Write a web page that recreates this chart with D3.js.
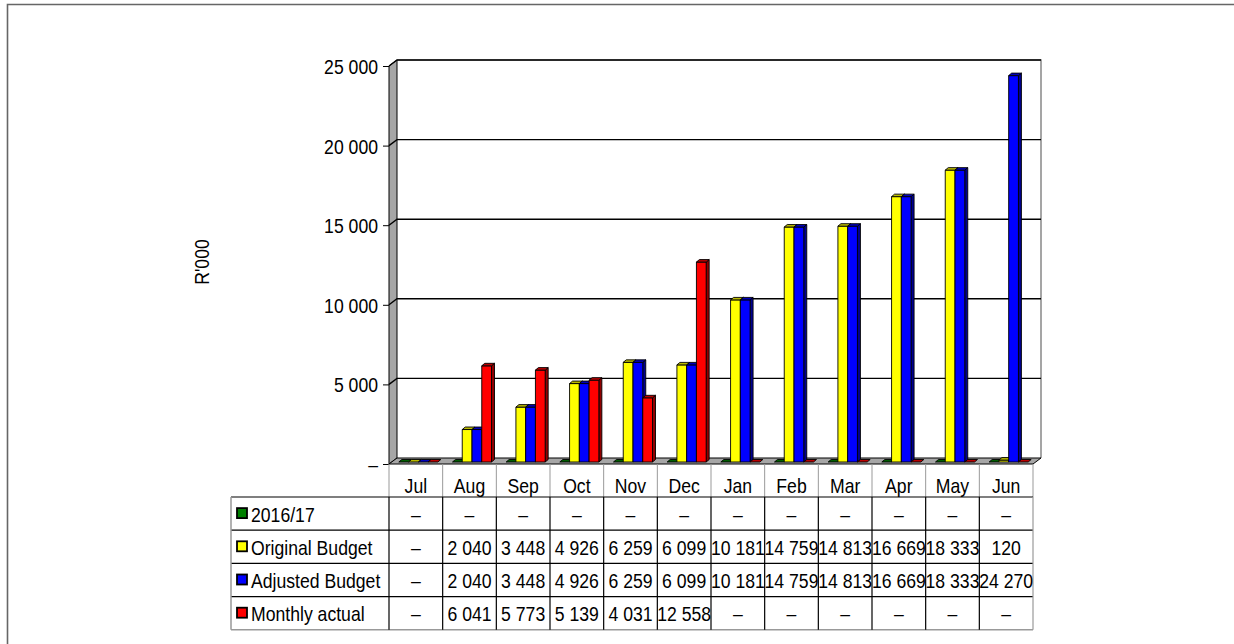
<!DOCTYPE html>
<html lang="en">
<head>
<meta charset="UTF-8">
<title>Budget vs actual</title>
<script src="https://d3js.org/d3.v7.min.js"></script>
<style>
    body { margin: 0; padding: 0; background: #fff; }
    svg text { font-family: "Liberation Sans", Arial, sans-serif; font-size: 20.5px; fill: #000; }
</style>
</head>
<body>
<svg width="1234" height="644"></svg>
<script>
    const months = ["Jul", "Aug", "Sep", "Oct", "Nov", "Dec", "Jan", "Feb", "Mar", "Apr", "May", "Jun"];
    const seriesNames = ["2016/17", "Original Budget", "Adjusted Budget", "Monthly actual"];
    const seriesColors = ["#008000", "#ffff00", "#0000ff", "#ff0000"];
    const prior = [0, 0, 0, 0, 0, 0, 0, 0, 0, 0, 0, 0];
    const original = [0, 2040, 3448, 4926, 6259, 6099, 10181, 14759, 14813, 16669, 18333, 120];
    const adjusted = [0, 2040, 3448, 4926, 6259, 6099, 10181, 14759, 14813, 16669, 18333, 24270];
    const actual = [0, 6041, 5773, 5139, 4031, 12558, 0, 0, 0, 0, 0, 0];
    const yTicks = [0, 5000, 10000, 15000, 20000, 25000];
    const allSeries = [prior, original, adjusted, actual];

    const svg = d3.select("svg");
    const squeeze = 0.86; // the original font is a narrow one

    function label(g, px, py, str, anchor) {
        return g.append("text")
            .attr("transform", `translate(${px},${py}) scale(${squeeze},1)`)
            .attr("text-anchor", anchor || "middle")
            .text(str);
    }

    // outer frame (only top and left show)
    svg.append("path").attr("d", "M7.5,644V4.5H1234")
        .attr("fill", "none").attr("stroke", "#666").attr("stroke-width", 1.6);

    const x = d3.scaleBand().domain(months).range([389, 1033]);
    const xs = d3.scaleBand().domain(seriesNames).range([0, x.bandwidth()]).paddingOuter(0.75);
    const y = d3.scaleLinear().domain([0, 25000]).range([464, 66]);

    const dx = 8, dy = -6;          // wall depth
    const bx = 2.5, by = -2;       // bar front offset inside depth
    const bdx = 3, bdy = -2.5;     // bar depth

    const x0 = x.range()[0], x1 = x.range()[1];
    const fmt = v => v === 0 ? "–" : d3.format(",")(v).replace(/,/g, " ");

    // back wall
    svg.append("rect").attr("x", x0 + dx).attr("y", y(25000) + dy)
        .attr("width", x1 - x0).attr("height", y(0) - y(25000))
        .attr("fill", "#fff").attr("stroke", "none");
    svg.append("path")
        .attr("d", `M${x0 + dx},${y(25000) + dy}H${x1 + dx}V${y(0) + dy}`)
        .attr("fill", "none").attr("stroke", "#888").attr("stroke-width", 1.5);

    // left wall
    svg.append("path")
        .attr("d", `M${x0},${y(0)}L${x0},${y(25000)}L${x0 + dx},${y(25000) + dy}L${x0 + dx},${y(0) + dy}Z`)
        .attr("fill", "#a6a6a6").attr("stroke", "#000").attr("stroke-width", 1);

    // gridlines
    const grid = svg.append("g");
    yTicks.filter(v => v > 0).forEach(v => {
        grid.append("path")
            .attr("d", `M${x0},${y(v)}L${x0 + dx},${y(v) + dy}H${x1 + dx}`)
            .attr("fill", "none").attr("stroke", "#000").attr("stroke-width", 1.4);
    });

    // floor
    svg.append("path")
        .attr("d", `M${x0},${y(0)}H${x1}L${x1 + dx},${y(0) + dy}H${x0 + dx}Z`)
        .attr("fill", "#a6a6a6").attr("stroke", "#000").attr("stroke-width", 1);

    // y axis
    const yAxis = d3.axisLeft(y).tickValues(yTicks).tickSize(6).tickFormat(fmt);
    const ga = svg.append("g").attr("transform", `translate(${x0},0)`).call(yAxis);
    ga.select(".domain").remove();
    ga.attr("font-size", null).attr("font-family", null);
    ga.selectAll("line").attr("stroke", "#000");
    ga.selectAll("text")
        .attr("x", null).attr("dy", null)
        .attr("fill", "#000")
        .attr("transform", `translate(-11,7.5) scale(${squeeze},1)`);

    svg.append("text").attr("transform", `translate(209,262) rotate(-90) scale(${squeeze},1)`)
        .attr("text-anchor", "middle").text("R'000");

    // bars
    const bars = svg.append("g");
    months.forEach((m, i) => {
        seriesNames.forEach((s, k) => {
            const v = allSeries[k][i];
            const c = d3.color(seriesColors[k]);
            const left = x(m) + xs(s) + bx;
            const w = xs.bandwidth();
            const top = y(v) + by, base = y(0) + by;
            const g = bars.append("g").attr("stroke", "#000").attr("stroke-width", 0.9).attr("stroke-linejoin", "round");
            if (v > 0) {
                g.append("path")
                    .attr("d", `M${left + w},${base}L${left + w + bdx},${base + bdy}V${top + bdy}L${left + w},${top}Z`)
                    .attr("fill", c.darker(1.6));
                g.append("rect").attr("x", left).attr("y", top).attr("width", w).attr("height", base - top)
                    .attr("fill", c);
            }
            g.append("path")
                .attr("d", `M${left},${top}H${left + w}L${left + w + bdx},${top + bdy}H${left + bdx}Z`)
                .attr("fill", c.darker(0.9));
        });
    });

    // data table
    const rowH = 33.2;
    const tTop = 464, hdrBottom = 497;
    const legLeft = 231;
    const tbl = svg.append("g");
    const rowsBottom = hdrBottom + rowH * seriesNames.length;

    // header month labels with gray separators
    months.forEach(m => label(tbl, x(m) + x.bandwidth() / 2, 493, m));
    months.forEach(m => {
        tbl.append("line").attr("x1", x(m)).attr("x2", x(m)).attr("y1", tTop).attr("y2", hdrBottom)
            .attr("stroke", "#999");
    });
    tbl.append("line").attr("x1", x1).attr("x2", x1).attr("y1", tTop).attr("y2", hdrBottom).attr("stroke", "#999");

    // horizontal rules
    d3.range(seriesNames.length).forEach(r => {
        const yy = hdrBottom + r * rowH;
        tbl.append("line").attr("x1", legLeft).attr("x2", x1).attr("y1", yy).attr("y2", yy)
            .attr("stroke", "#000").attr("stroke-width", 1.2);
    });
    tbl.append("line").attr("x1", legLeft).attr("x2", x1).attr("y1", rowsBottom).attr("y2", rowsBottom)
        .attr("stroke", "#999").attr("stroke-width", 1.5);
    tbl.append("line").attr("x1", legLeft).attr("x2", legLeft).attr("y1", hdrBottom).attr("y2", rowsBottom)
        .attr("stroke", "#999").attr("stroke-width", 1.5);
    months.forEach(m => {
        tbl.append("line").attr("x1", x(m)).attr("x2", x(m)).attr("y1", hdrBottom).attr("y2", rowsBottom)
            .attr("stroke", "#000").attr("stroke-width", 1.2);
    });
    tbl.append("line").attr("x1", x1).attr("x2", x1).attr("y1", hdrBottom).attr("y2", rowsBottom)
        .attr("stroke", "#999").attr("stroke-width", 1.2);

    // rows
    seriesNames.forEach((s, k) => {
        const cy = hdrBottom + k * rowH + rowH / 2;
        tbl.append("rect").attr("x", 237).attr("y", cy - 5.5).attr("width", 10).attr("height", 10)
            .attr("fill", seriesColors[k]).attr("stroke", "#000").attr("stroke-width", 1.8);
        label(tbl, 251, cy + 8, s, "start");
        months.forEach((m, i) => {
            label(tbl, x(m) + x.bandwidth() / 2, cy + 8, fmt(allSeries[k][i]));
        });
    });
</script>
</body>
</html>
